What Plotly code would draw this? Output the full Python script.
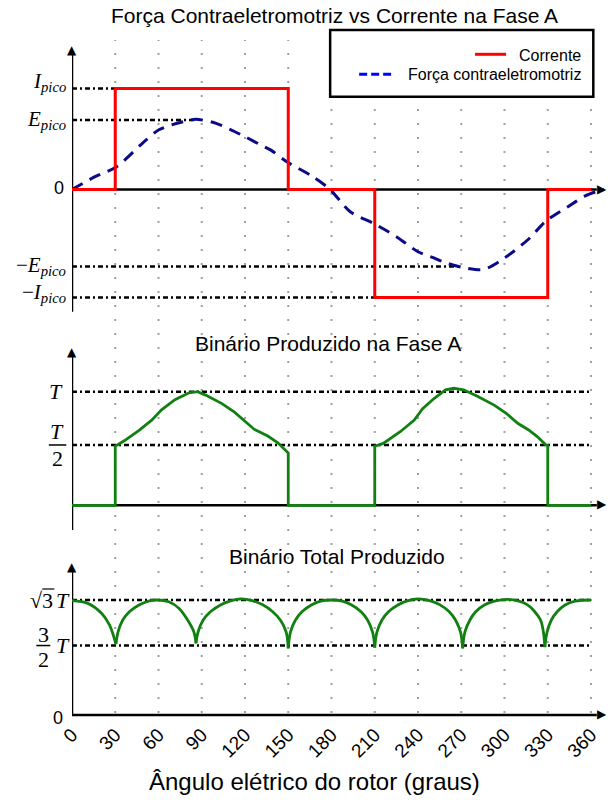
import plotly.graph_objects as go

# ---------------- data ----------------
angle_ticks = [0, 30, 60, 90, 120, 150, 180, 210, 240, 270, 300, 330, 360]
angle_tick_text = [str(a) for a in angle_ticks]

# Phase A current (units of I_pico)
current_angle = [0, 30, 30, 150, 150, 210, 210, 330, 330, 360]
current_value = [0, 0, 1.0, 1.0, 0, 0, -1.069, -1.069, 0, 0]

# Back-EMF (same units)
emf_angle = [0, 16, 31, 49, 60, 69, 77, 86, 100, 113, 120, 131, 138, 149, 167, 179,
             193, 210, 225, 240, 251, 259, 274, 286, 300, 316, 329, 344, 356, 364, 369]
emf_value = [0, 0.127, 0.226, 0.46, 0.589, 0.639, 0.671, 0.695, 0.655, 0.572, 0.523,
             0.44, 0.39, 0.275, 0.127, 0, -0.22, -0.342, -0.467, -0.616, -0.678,
             -0.725, -0.78, -0.79, -0.678, -0.5, -0.31, -0.17, -0.064, -0.02, 0]

# reference levels, top plot: I_pico, E_pico, -E_pico, -I_pico
top_level_value = [1.0, 0.688, -0.762, -1.069]
top_level_end = [30, 86, 270, 210]
top_level_text = ["<i>I</i><sub><i>pico</i></sub>", "<i>E</i><sub><i>pico</i></sub>",
                  "\u2212<i>E</i><sub><i>pico</i></sub>", "\u2212<i>I</i><sub><i>pico</i></sub>"]

# Phase A torque (units of T)
phase_angle = [0, 30, 30, 36.5, 46.5, 55.3, 62.1, 71.4, 81.2, 87.1, 92.7, 104, 112.7,
               120.7, 126.3, 135.8, 142.8, 150, 150, 210, 210, 215.9, 227.9, 237.4,
               243.2, 251.1, 259.1, 264.8, 271.6, 281.2, 293.1, 301.2, 309.4, 316.5,
               322.7, 328.8, 330, 330, 360]
phase_value = [0, 0, 0.52, 0.57, 0.66, 0.75, 0.84, 0.93, 0.99, 1.0, 0.97, 0.895, 0.82,
               0.73, 0.67, 0.61, 0.55, 0.46, 0, 0, 0.52, 0.545, 0.65, 0.75, 0.85, 0.94,
               1.017, 1.03, 1.017, 0.96, 0.88, 0.81, 0.72, 0.665, 0.605, 0.53, 0.53, 0, 0]
phase_level_value = [1.0, 0.531]   # T, T/2
phase_level_end = [360, 360]

# Total torque (units of sqrt(3) T as drawn), arcs separated by None
total_angle = [0, 11, 20.5, 26, 29, 30.5, None,
               30.5, 32, 35.2, 39.8, 46.5, 53.1, 58.7, 67.1, 74.3, 80.2, 84.5, 86, None,
               86, 87.5, 91, 96, 103, 110, 117.3, 125, 132, 139, 144.5, 148.5, 150, None,
               150, 151.5, 155, 159.5, 166, 172.5, 180, 187.5, 194, 200.5, 205, 208.5, 210, None,
               210, 211.5, 215, 219.5, 226, 232.5, 240, 248, 255, 261.5, 266, 269.5, 271, None,
               271, 272.5, 276, 280, 286, 293, 302, 310, 316, 321, 325, 327, 328, None,
               328, 329.5, 332.5, 336.5, 342, 349, 360]
total_value = [0.994, 0.971, 0.884, 0.783, 0.681, 0.617, None,
               0.617, 0.724, 0.826, 0.898, 0.957, 0.991, 1.0, 0.985, 0.927, 0.826, 0.724, 0.623, None,
               0.623, 0.724, 0.826, 0.898, 0.957, 0.993, 1.01, 0.995, 0.96, 0.9, 0.826, 0.724, 0.58, None,
               0.58, 0.72, 0.826, 0.898, 0.957, 0.991, 1.0, 0.991, 0.957, 0.898, 0.826, 0.72, 0.585, None,
               0.585, 0.72, 0.826, 0.898, 0.957, 0.993, 1.01, 0.995, 0.96, 0.9, 0.826, 0.72, 0.58, None,
               0.58, 0.72, 0.826, 0.898, 0.957, 0.99, 1.005, 0.99, 0.957, 0.898, 0.826, 0.72, 0.59, None,
               0.59, 0.72, 0.826, 0.898, 0.957, 0.99, 1.0]
total_level_value = [1.0, 0.604]   # sqrt(3) T, 3/2 T
total_level_end = [360, 360]

# ---------------- layout helpers ----------------
W, H = 608, 805
L = 71.7
PW = W - L
PX_PER_DEG = 1.4425
X_MAX = PW / PX_PER_DEG

SANS = "Liberation Sans, Arial, sans-serif"
SERIF = "Liberation Serif, Times New Roman, serif"
RED = "#ff0000"
NAVY = "#0b0b8a"
GREEN = "#118011"
GRID = "#a0a0a0"
REF_DASH = "5px,3px,2px,3px"


def fx(px):
    return (px - L) / PW


def fy(py):
    return 1 - py / H


def yr(zero, unit, top, bottom):
    return [(zero - bottom) / unit, (zero - top) / unit]


# (zero px, unit px, domain top px, domain bottom px, axis tip px, axis bottom px)
SUB = {
    "1": (189.5, 101.0, 40, 315, 45, 311.7),
    "2": (505.3, 113.6, 340, 535, 347, 530),
    "3": (715.0, 115.0, 555, 719, 562, 715),
}


def val(sub, py):
    z, u = SUB[sub][0], SUB[sub][1]
    return (z - py) / u


fig = go.Figure()

# reference lines (drawn under curves)
for v, e in zip(top_level_value, top_level_end):
    fig.add_trace(go.Scatter(x=[0, e], y=[v, v], mode="lines", xaxis="x", yaxis="y",
                             line=dict(color="black", width=2.5, dash=REF_DASH),
                             hoverinfo="skip", showlegend=False))
for v, e in zip(phase_level_value, phase_level_end):
    fig.add_trace(go.Scatter(x=[0, e], y=[v, v], mode="lines", xaxis="x2", yaxis="y2",
                             line=dict(color="black", width=2.5, dash=REF_DASH),
                             hoverinfo="skip", showlegend=False))
for v, e in zip(total_level_value, total_level_end):
    fig.add_trace(go.Scatter(x=[0, e], y=[v, v], mode="lines", xaxis="x3", yaxis="y3",
                             line=dict(color="black", width=2.5, dash=REF_DASH),
                             hoverinfo="skip", showlegend=False))

# curves
fig.add_trace(go.Scatter(x=emf_angle, y=emf_value, mode="lines", xaxis="x", yaxis="y",
                         name="Força contraeletromotriz",
                         line=dict(color=NAVY, width=3, dash="12px,8px", shape="spline", smoothing=0.8),
                         showlegend=False))
fig.add_trace(go.Scatter(x=current_angle, y=current_value, mode="lines", xaxis="x", yaxis="y",
                         name="Corrente", line=dict(color=RED, width=3), showlegend=False))
fig.add_trace(go.Scatter(x=phase_angle, y=phase_value, mode="lines", xaxis="x2", yaxis="y2",
                         line=dict(color=GREEN, width=2.8), showlegend=False))
fig.add_trace(go.Scatter(x=total_angle, y=total_value, mode="lines", xaxis="x3", yaxis="y3",
                         connectgaps=False,
                         line=dict(color=GREEN, width=2.8, shape="spline", smoothing=1.0),
                         showlegend=False))

shapes = []
# vertical dotted grid across the whole figure
for a in angle_ticks[1:]:
    shapes.append(dict(type="line", xref="x", yref="paper", x0=a, x1=a,
                       y0=fy(713), y1=fy(40), layer="below",
                       line=dict(color=GRID, width=2, dash="2px,12px")))

# axis lines with arrow tips (glyphs)
annotations = []
for s in ["1", "2", "3"]:
    xr = "x" if s == "1" else "x" + s
    yrf = "y" if s == "1" else "y" + s
    z, u, dt, db, tip, bot = SUB[s]
    shapes.append(dict(type="line", xref=xr, yref=yrf, x0=0, x1=364, y0=0, y1=0,
                       layer="below", line=dict(color="black", width=2.5)))
    shapes.append(dict(type="line", xref=xr, yref=yrf, x0=0, x1=0, y0=val(s, bot),
                       y1=val(s, tip + 8), layer="below", line=dict(color="black", width=2.5)))
    annotations.append(dict(x=(606 - L) / PX_PER_DEG, y=0, xref=xr, yref=yrf, text="\u25B6",
                            showarrow=False, xanchor="right", yanchor="middle",
                            borderpad=0, xshift=2, yshift=1,
                            font=dict(family="DejaVu Sans", size=12, color="black")))
    annotations.append(dict(x=0, y=val(s, tip), xref=xr, yref=yrf, text="\u25B2",
                            showarrow=False, xanchor="center", yanchor="top",
                            borderpad=0, yshift=3,
                            font=dict(family="DejaVu Sans", size=12, color="black")))


# titles
def title(text, cx, cy, size):
    annotations.append(dict(x=fx(cx), y=fy(cy), xref="paper", yref="paper", text=text,
                            showarrow=False, xanchor="center", yanchor="middle",
                            font=dict(family=SANS, size=size, color="black")))


title("Força Contraeletromotriz vs Corrente na Fase A", 334, 16, 21)
title("Binário Produzido na Fase A", 328, 343.5, 21)
title("Binário Total Produzido", 337, 556.5, 21)
title("Ângulo elétrico do rotor (graus)", 314, 781, 24)


def ylab(text, yref, y, xshift, yshift, size=21, family=SERIF, x=0, xanchor="right"):
    annotations.append(dict(x=x, y=y, xref="paper", yref=yref, text=text, showarrow=False,
                            xanchor=xanchor, yanchor="middle", xshift=xshift, yshift=yshift,
                            font=dict(family=family, size=size, color="black")))


# top y labels
top_shift = [6, 0, 0, 4]
for t, v, ys in zip(top_level_text, top_level_value, top_shift):
    ylab(t, "y", v, -4, ys)
ylab("0", "y", 0, -6, 2, size=18, family=SANS)

# middle y labels
ylab("<i>T</i>", "y2", phase_level_value[0], -7, 0, size=22)
ylab("<i>T</i>", "y2", phase_level_value[1], 0, 13, size=22, x=fx(57), xanchor="center")
ylab("2", "y2", phase_level_value[1], 0, -14, size=22, x=fx(57), xanchor="center")
shapes.append(dict(type="line", xref="paper", yref="y2", x0=fx(48.5), x1=fx(66),
                   y0=phase_level_value[1], y1=phase_level_value[1],
                   line=dict(color="black", width=1.5)))

# bottom y labels
ylab("<i>T</i>", "y3", total_level_value[0], 0, 0, size=22)
ylab("\u221a3", "y3", total_level_value[0], 0, 0, size=22, x=fx(55))
shapes.append(dict(type="line", xref="paper", yref="y3", x0=fx(42), x1=fx(54),
                   ysizemode="pixel", yanchor=total_level_value[0], y0=11, y1=11,
                   line=dict(color="black", width=1.2)))
ylab("<i>T</i>", "y3", total_level_value[1], 0, 0, size=22)
ylab("3", "y3", total_level_value[1], 0, 11, size=22, x=fx(43), xanchor="center")
ylab("2", "y3", total_level_value[1], 0, -14, size=22, x=fx(43), xanchor="center")
shapes.append(dict(type="line", xref="paper", yref="y3", x0=fx(36), x1=fx(50),
                   y0=total_level_value[1], y1=total_level_value[1],
                   line=dict(color="black", width=1.5)))
ylab("0", "y3", 0, -7, -3, size=18, family=SANS)

# manual legend (right aligned entries, as in the original)
shapes.append(dict(type="rect", xref="paper", yref="paper", x0=fx(330), x1=fx(593.3),
                   y0=fy(96.7), y1=fy(30), layer="above", fillcolor="white",
                   line=dict(color="black", width=2.5)))
shapes.append(dict(type="line", xref="paper", yref="paper", x0=fx(475), x1=fx(506),
                   y0=fy(54.3), y1=fy(54.3), layer="above", line=dict(color=RED, width=3)))
shapes.append(dict(type="line", xref="paper", yref="paper", x0=fx(359), x1=fx(391),
                   y0=fy(74.3), y1=fy(74.3), layer="above",
                   line=dict(color="#0000ff", width=3, dash="8px,4px")))
for txt, cy in [("Corrente", 55.5), ("Força contraeletromotriz", 74.5)]:
    annotations.append(dict(x=fx(583), y=fy(cy), xref="paper", yref="paper", text=txt,
                            showarrow=False, xanchor="right", yanchor="middle",
                            font=dict(family=SANS, size=16, color="black")))

axis_common = dict(range=[0, X_MAX], showgrid=False, zeroline=False, showline=False,
                   ticks="", fixedrange=True)
yaxis_common = dict(showgrid=False, zeroline=False, showline=False, ticks="",
                    showticklabels=False, fixedrange=True)

fig.update_layout(
    width=W, height=H,
    margin=dict(l=L, r=0, t=0, b=0),
    paper_bgcolor="white", plot_bgcolor="rgba(0,0,0,0)",
    showlegend=False, hovermode=False,
    xaxis=dict(**axis_common, domain=[0, 1], anchor="y", showticklabels=False),
    yaxis=dict(**yaxis_common, domain=[fy(SUB["1"][3]), fy(SUB["1"][2])],
               range=yr(SUB["1"][0], SUB["1"][1], SUB["1"][2], SUB["1"][3]), anchor="x"),
    xaxis2=dict(**axis_common, domain=[0, 1], anchor="y2", showticklabels=False),
    yaxis2=dict(**yaxis_common, domain=[fy(SUB["2"][3]), fy(SUB["2"][2])],
                range=yr(SUB["2"][0], SUB["2"][1], SUB["2"][2], SUB["2"][3]), anchor="x2"),
    xaxis3=dict(**axis_common, domain=[0, 1], anchor="y3", showticklabels=True,
                tickmode="array", tickvals=angle_ticks, ticktext=angle_tick_text,
                tickangle=-45, tickfont=dict(family=SANS, size=19, color="black")),
    yaxis3=dict(**yaxis_common, domain=[fy(SUB["3"][3]), fy(SUB["3"][2])],
                range=yr(SUB["3"][0], SUB["3"][1], SUB["3"][2], SUB["3"][3]), anchor="x3"),
    shapes=shapes,
    annotations=annotations,
)

fig.write_html("out.html", config={"displayModeBar": False},
               post_script="document.body.style.margin='0px';")
